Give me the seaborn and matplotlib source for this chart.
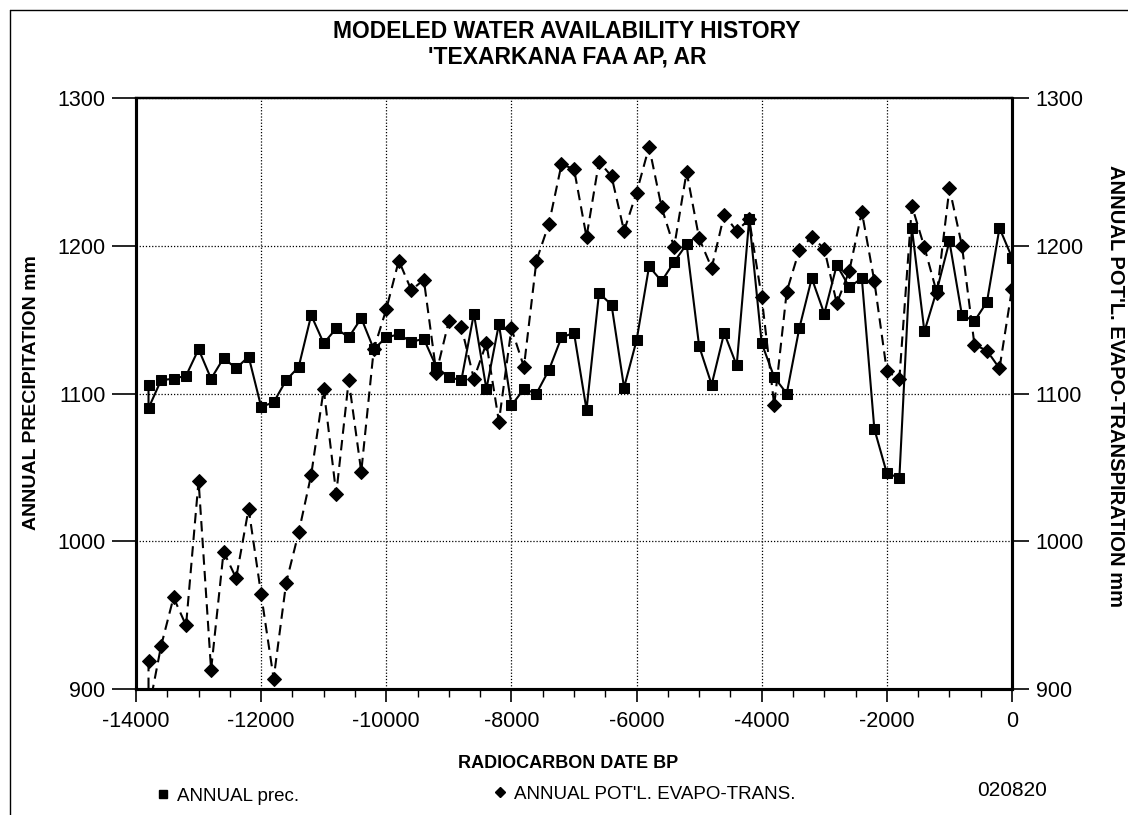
import matplotlib
matplotlib.use("Agg")
import matplotlib.pyplot as plt
import seaborn as sns
import pandas as pd
from matplotlib.lines import Line2D
from matplotlib.ticker import MultipleLocator

# ---------------- data ----------------
years = [-13800, -13800, -13600, -13400, -13200, -13000, -12800, -12600, -12400,
         -12200, -12000, -11800, -11600, -11400, -11200, -11000, -10800, -10600,
         -10400, -10200, -10000, -9800, -9600, -9400, -9200, -9000, -8800, -8600,
         -8400, -8200, -8000, -7800, -7600, -7400, -7200, -7000, -6800, -6600,
         -6400, -6200, -6000, -5800, -5600, -5400, -5200, -5000, -4800, -4600,
         -4400, -4200, -4000, -3800, -3600, -3400, -3200, -3000, -2800, -2600,
         -2400, -2200, -2000, -1800, -1600, -1400, -1200, -1000, -800, -600,
         -400, -200, 0]

annual_prec = [1106, 1090, 1109, 1110, 1112, 1130, 1110, 1124, 1117, 1125, 1091,
               1094, 1109, 1118, 1153, 1134, 1144, 1138, 1151, 1130, 1138, 1140,
               1135, 1137, 1118, 1111, 1109, 1154, 1103, 1147, 1092, 1103, 1100,
               1116, 1138, 1141, 1089, 1168, 1160, 1104, 1136, 1186, 1176, 1189,
               1201, 1132, 1106, 1141, 1119, 1218, 1134, 1111, 1100, 1144, 1178,
               1154, 1187, 1172, 1178, 1076, 1046, 1043, 1212, 1142, 1170, 1203,
               1153, 1149, 1162, 1212, 1192]

annual_pet = [919, 885, 929, 962, 943, 1041, 913, 993, 975, 1022, 964, 907, 972,
              1006, 1045, 1103, 1032, 1109, 1047, 1130, 1157, 1190, 1170, 1177,
              1114, 1149, 1145, 1110, 1134, 1081, 1144, 1118, 1190, 1215, 1255,
              1252, 1206, 1257, 1247, 1210, 1236, 1267, 1226, 1199, 1250, 1205,
              1185, 1221, 1210, 1218, 1165, 1092, 1169, 1197, 1206, 1198, 1161,
              1183, 1223, 1176, 1115, 1110, 1227, 1199, 1168, 1239, 1200, 1133,
              1129, 1117, 1171]

x_ticks = [-14000, -12000, -10000, -8000, -6000, -4000, -2000, 0]
y_ticks = [900, 1000, 1100, 1200, 1300]

title_lines = ["MODELED WATER AVAILABILITY HISTORY", "'TEXARKANA FAA AP, AR"]
x_label = "RADIOCARBON DATE BP"
y_label_left = "ANNUAL PRECIPITATION mm"
y_label_right = "ANNUAL POT'L. EVAPO-TRANSPIRATION mm"
legend_labels = ["ANNUAL prec.", "ANNUAL POT'L. EVAPO-TRANS."]
code_text = "020820"

df = pd.DataFrame({"year": years, "prec": annual_prec, "pet": annual_pet})

# ---------------- figure ----------------
sns.set_theme(style="ticks")
plt.rcParams['font.family'] = ['Liberation Sans', 'DejaVu Sans']
plt.rcParams['text.color'] = 'black'
plt.rcParams['axes.labelcolor'] = 'black'
plt.rcParams['xtick.color'] = 'black'
plt.rcParams['ytick.color'] = 'black'

W, H = 1128, 815
fig = plt.figure(figsize=(W / 100, H / 100), dpi=100)
fig.patch.set_facecolor("white")

L, R, T, B = 136, 1012, 98, 689
ax = fig.add_axes([L / W, 1 - B / H, (R - L) / W, (B - T) / H])
ax.set_facecolor("white")
ax2 = ax.twinx()

sns.lineplot(data=df, x="year", y="prec", ax=ax, estimator=None, sort=False,
             color="black", linewidth=1.5, marker="s", markersize=7.5,
             markeredgecolor="black", markerfacecolor="black")
sns.lineplot(data=df, x="year", y="pet", ax=ax2, estimator=None, sort=False,
             color="black", linewidth=1.5, marker="D", markersize=7,
             markeredgecolor="black", markerfacecolor="black")
for ln in ax2.lines:
    ln.set_dashes([5, 3])

for a in (ax, ax2):
    a.set_xlim(-14000, 0)
    a.set_ylim(900, 1300)
    a.set_xlabel("")
    a.set_ylabel("")
    for s in a.spines.values():
        s.set_visible(True)
        s.set_linewidth(2.2)
        s.set_color("black")
    a.spines["top"].set_linewidth(1.6)

ax.xaxis.set_minor_locator(MultipleLocator(500))
ax.set_xticks(x_ticks)
ax.set_xticklabels([str(v) for v in x_ticks])
ax.set_yticks(y_ticks)
ax2.set_yticks(y_ticks)

ax.tick_params(axis="x", which="major", direction="out", length=9, width=1.2,
               labelsize=15.5, pad=7, colors="black")
ax.tick_params(axis="x", which="minor", direction="out", length=6, width=1.0)
ax.tick_params(axis="y", which="major", direction="out", length=17, width=1.2,
               labelsize=15.5, pad=5, left=True, right=False)
ax2.tick_params(axis="y", which="major", direction="out", length=12, width=1.2,
                labelsize=15.5, pad=5, right=True, left=False)
ax2.tick_params(axis="x", which="both", bottom=False, top=False, labelbottom=False)

ax.grid(True, which="major", linestyle=(0, (1, 1.5)), color="black", linewidth=0.9)
ax2.grid(False)

# ---------------- texts ----------------
fig.text(567 / W, 1 - 32 / H, title_lines[0], ha="center", va="center",
         fontsize=16.5, fontweight="bold")
fig.text(567 / W, 1 - 57 / H, title_lines[1], ha="center", va="center",
         fontsize=16.5, fontweight="bold")
fig.text(568 / W, 1 - 764 / H, x_label, ha="center", va="center",
         fontsize=13, fontweight="bold")
fig.text(32 / W, 1 - 393 / H, y_label_left, ha="center", va="center",
         rotation=90, fontsize=14, fontweight="bold")
fig.text(1115 / W, 1 - 386 / H, y_label_right, ha="center", va="center",
         rotation=-90, fontsize=14.5, fontweight="bold")
fig.text(1012 / W, 1 - 790 / H, code_text, ha="center", va="center", fontsize=15)

h1 = Line2D([0], [0], marker="s", color="black", linestyle="none", markersize=6)
h2 = Line2D([0], [0], marker="D", color="black", linestyle="none", markersize=5.5)
for h, lab, xl, yl in [(h1, legend_labels[0], 155, 796), (h2, legend_labels[1], 492, 794)]:
    fig.legend(handles=[h], labels=[lab], loc="center left",
               bbox_to_anchor=(xl / W, 1 - yl / H), frameon=False, fontsize=13.5,
               handlelength=0.8, handletextpad=0.35, borderpad=0, borderaxespad=0)

# page frame
fig.add_artist(Line2D([10 / W, 10 / W], [0, 1 - 10 / H], transform=fig.transFigure,
                      color="black", linewidth=1.0))
fig.add_artist(Line2D([10 / W, 1], [1 - 10 / H, 1 - 10 / H], transform=fig.transFigure,
                      color="black", linewidth=1.0))

fig.savefig("out.png", dpi=100, facecolor="white")
